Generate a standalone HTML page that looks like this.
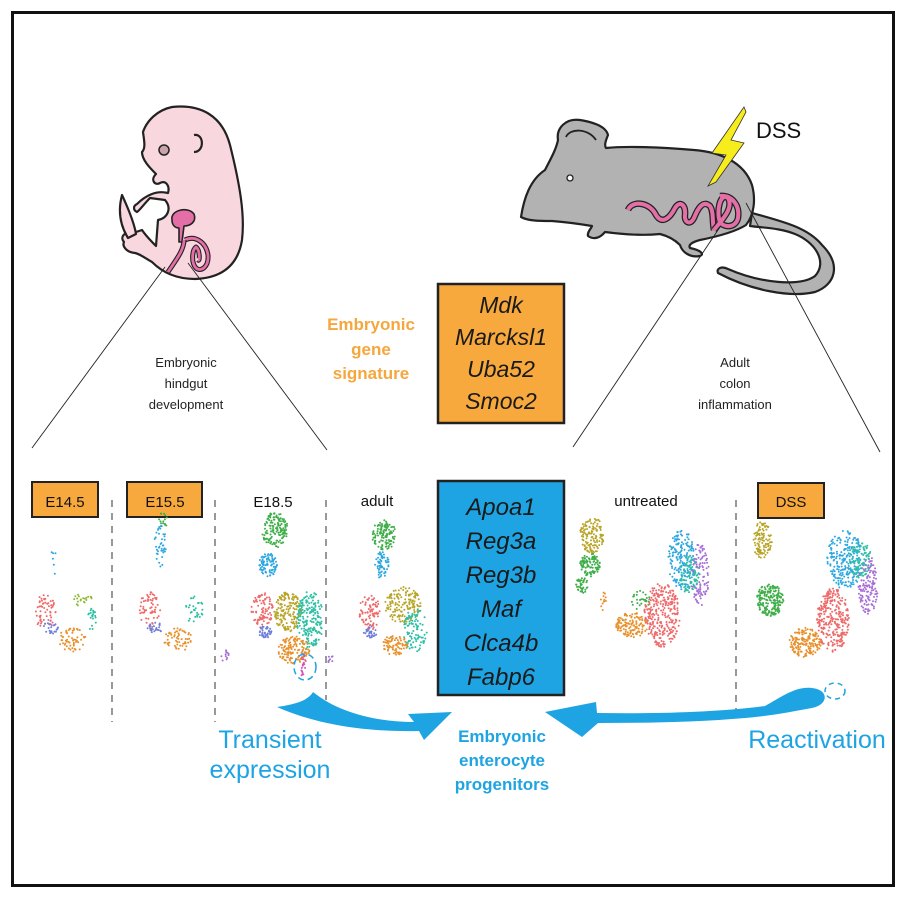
<!DOCTYPE html>
<html><head><meta charset="utf-8"><style>
html,body{margin:0;padding:0;background:#fff}
svg{display:block}
text{font-family:"Liberation Sans",sans-serif}
</style></head><body>
<svg id="s" width="906" height="898" viewBox="0 0 906 898" xmlns="http://www.w3.org/2000/svg">
<rect x="0" y="0" width="906" height="898" fill="#fff"/>
<rect x="12.5" y="12.5" width="881" height="873" fill="none" stroke="#111" stroke-width="3"/>

<!-- embryo -->
<g stroke="#222" stroke-width="2.2" stroke-linejoin="round">
<path d="M172,107 C200,104 222,115 230,145 C240,185 245,215 242,240 C238,265 222,278 195,279 C175,279 162,272 152,262 C145,258 140,254 135,253 C126,252 122,246 124,242 C120,238 124,232 128,234 C126,228 132,226 134,230 L136,232 L142,230 C146,236 150,240 156,246 L158,220 C168,218 172,208 165,200 L150,198 C144,204 140,210 137,212 C133,210 133,206 137,204 C145,196 156,190 168,193 C170,186 166,180 160,183 C155,186 150,180 156,174 C150,168 142,160 142,152 C146,148 144,140 143,132 C147,120 158,110 172,107 Z" fill="#f9d7de"/>
<path d="M128,238 C120,225 118,210 122,195 C128,208 134,222 136,234 Z" fill="#f9d7de"/>
<path d="M194,135 C204,133 205,152 194,152" fill="none"/>
<path d="M172,220 C170,210 188,206 194,214 C197,222 190,226 184,226 L182,242 L179,242 L179,228 C175,228 172,225 172,220 Z" fill="#e46fa6" stroke-width="1.6"/>
<path d="M185,240 C195,235 206,242 208,255 C209,268 200,272 196,268 C191,263 192,250 196,247 C200,250 200,262 198,260" fill="none" stroke="#222" stroke-width="5"/>
<path d="M185,240 C195,235 206,242 208,255 C209,268 200,272 196,268 C191,263 192,250 196,247 C200,250 200,262 198,260" fill="none" stroke="#e46fa6" stroke-width="2.8"/>
<path d="M184,240 C184,250 176,260 168,272" fill="none" stroke="#222" stroke-width="5"/>
<path d="M184,240 C184,250 176,260 168,272" fill="none" stroke="#e46fa6" stroke-width="2.8"/>
</g>
<circle cx="164" cy="150" r="5" fill="#c9a5ab" stroke="#222" stroke-width="1.5"/>

<!-- mouse -->
<g stroke="#222" stroke-width="2.2" stroke-linejoin="round">
<path d="M752,213 C785,222 808,228 822,245 C842,265 835,285 815,292 C790,298 750,290 718,273 C716,268 722,266 728,269 C760,283 800,287 815,276 C828,262 815,242 795,234 C780,228 765,228 750,226 Z" fill="#b2b2b3"/>
<path d="M521,217 C524,198 530,180 545,170 C550,160 556,150 558,140 C556,128 566,118 580,120 C592,122 606,126 608,135 C606,140 604,145 606,148 C625,146 660,147 694,150 C720,152 744,162 752,185 C756,200 754,215 746,225 C735,232 715,237 700,240 C692,242 688,245 690,248 C700,250 705,254 700,256 C690,258 682,252 680,245 C675,240 668,236 660,234 C640,236 620,234 605,232 C600,238 594,240 588,236 C587,232 591,229 592,226 C580,224 565,222 552,221 C540,221 528,221 521,217 Z" fill="#b2b2b3"/>
<path d="M566,137 C570,128 588,128 596,140" fill="none" stroke-width="1.8"/>
<path d="M628,210 C632,200 650,202 656,215 C662,225 670,218 675,208 C680,200 686,205 685,215 C684,222 690,226 694,218 C698,208 703,200 710,206 C714,212 712,222 714,230" fill="none" stroke-width="6.5"/>
<path d="M628,210 C632,200 650,202 656,215 C662,225 670,218 675,208 C680,200 686,205 685,215 C684,222 690,226 694,218 C698,208 703,200 710,206 C714,212 712,222 714,230" fill="none" stroke="#e46fa6" stroke-width="4"/>
<path d="M714,230 C722,220 734,208 728,198 C720,192 716,212 720,222 C724,228 736,228 738,218 C740,205 732,195 720,196" fill="none" stroke-width="6.5"/>
<path d="M714,230 C722,220 734,208 728,198 C720,192 716,212 720,222 C724,228 736,228 738,218 C740,205 732,195 720,196" fill="none" stroke="#e46fa6" stroke-width="4"/>
</g>
<circle cx="570" cy="178" r="3" fill="#fff" stroke="#222" stroke-width="1.3"/>
<polygon points="744,107 712,153 726,155 708,186 716,182 744,143 731,140 746,112" fill="#f7ec1c" stroke="#333" stroke-width="0.8"/>
<text x="756" y="138" font-size="22" fill="#111">DSS</text>

<!-- zoom lines -->
<g stroke="#222" stroke-width="0.9">
<line x1="165" y1="267" x2="32" y2="448"/>
<line x1="188" y1="263" x2="327" y2="450"/>
<line x1="720" y1="227" x2="573" y2="447"/>
<line x1="746" y1="203" x2="880" y2="452"/>
</g>

<text text-anchor="middle" font-size="13" fill="#222"><tspan x="186" y="367">Embryonic</tspan><tspan x="186" y="388">hindgut</tspan><tspan x="186" y="409">development</tspan></text>
<text text-anchor="middle" font-size="13" fill="#222"><tspan x="735" y="367">Adult</tspan><tspan x="735" y="388">colon</tspan><tspan x="735" y="409">inflammation</tspan></text>
<text text-anchor="middle" font-size="17" font-weight="bold" fill="#f5a73d"><tspan x="371" y="330">Embryonic</tspan><tspan x="371" y="355">gene</tspan><tspan x="371" y="379">signature</tspan></text>

<rect x="438" y="284" width="126" height="139" fill="#f7a93d" stroke="#222" stroke-width="2.5"/>
<text text-anchor="middle" font-size="23" font-style="italic" fill="#1a1a1a"><tspan x="501" y="313">Mdk</tspan><tspan x="501" y="345">Marcksl1</tspan><tspan x="501" y="377">Uba52</tspan><tspan x="501" y="409">Smoc2</tspan></text>

<rect x="438" y="481" width="126" height="214" fill="#1ea4e3" stroke="#222" stroke-width="2.5"/>
<text text-anchor="middle" font-size="24" font-style="italic" fill="#1a1a1a"><tspan x="501" y="515">Apoa1</tspan><tspan x="501" y="549">Reg3a</tspan><tspan x="501" y="583">Reg3b</tspan><tspan x="501" y="617">Maf</tspan><tspan x="501" y="651">Clca4b</tspan><tspan x="501" y="685">Fabp6</tspan></text>

<!-- labels -->
<rect x="32" y="482" width="66" height="35" fill="#f7a93d" stroke="#222" stroke-width="2"/>
<text x="65" y="507" text-anchor="middle" font-size="15" fill="#111">E14.5</text>
<rect x="127" y="482" width="75" height="35" fill="#f7a93d" stroke="#222" stroke-width="2"/>
<text x="165" y="507" text-anchor="middle" font-size="15" fill="#111">E15.5</text>
<text x="273" y="507" text-anchor="middle" font-size="15" fill="#111">E18.5</text>
<text x="377" y="506" text-anchor="middle" font-size="15" fill="#111">adult</text>
<text x="646" y="506" text-anchor="middle" font-size="15" fill="#111">untreated</text>
<rect x="758" y="483" width="66" height="35" fill="#f7a93d" stroke="#222" stroke-width="2"/>
<text x="791" y="507" text-anchor="middle" font-size="15" fill="#111">DSS</text>

<g stroke="#555" stroke-width="1.2" stroke-dasharray="7,6">
<line x1="112" y1="500" x2="112" y2="722"/>
<line x1="215" y1="500" x2="215" y2="722"/>
<line x1="326" y1="500" x2="326" y2="700"/>
<line x1="736" y1="500" x2="736" y2="720"/>
</g>

<g id="dots"></g>

<ellipse cx="305" cy="667" rx="11" ry="13" fill="none" stroke="#1ea4e3" stroke-width="1.5" stroke-dasharray="6,4"/>
<ellipse cx="835" cy="691" rx="10" ry="8" fill="none" stroke="#1ea4e3" stroke-width="1.5" stroke-dasharray="5,4"/>

<!-- arrows -->
<path d="M277,707 C298,704 308,700 313,692 C340,714 380,722 414,722 L408,714 L452,712 L424,740 L419,731 C370,732 320,726 277,707 Z" fill="#1ea4e3"/>
<path d="M545,712 L596,702 L597,713 C660,714 720,712 765,706 C780,698 795,686 812,688 C830,690 828,705 812,708 C790,712 770,716 745,718 C700,722 650,723 598,723 L582,737 Z" fill="#1ea4e3"/>

<text text-anchor="middle" font-size="25" fill="#1ea4e3"><tspan x="270" y="748">Transient</tspan><tspan x="270" y="778">expression</tspan></text>
<text x="817" y="748" text-anchor="middle" font-size="25" fill="#1ea4e3">Reactivation</text>
<text text-anchor="middle" font-size="17" font-weight="bold" fill="#1ea4e3"><tspan x="502" y="742">Embryonic</tspan><tspan x="502" y="766">enterocyte</tspan><tspan x="502" y="790">progenitors</tspan></text>
</svg>
<script>
(function(){
var seed=7;function r(){seed=(seed*16807)%2147483647;return seed/2147483647;}
var C={red:"#ee6a6a",blue:"#6f7fd8",orange:"#e8902a",green:"#3fae49",olive:"#b8a426",teal:"#2cbfa4",cyan:"#2ea7e0",purple:"#a66fd6",lime:"#8fb936",pink:"#d452b8"};
var cl=[
[45,612,11,18,"red",60],[50,628,8,6,"blue",25],[72,640,14,12,"orange",60],[82,600,12,6,"lime",20],[92,620,5,12,"teal",20],[52,560,4,20,"cyan",6],
[150,610,11,18,"red",60],[155,628,8,6,"blue",25],[178,640,14,12,"orange",60],[195,610,10,14,"teal",30],[160,545,6,22,"cyan",40],[163,520,5,8,"green",15],
[275,530,13,18,"green",150],[268,565,9,12,"cyan",90],[262,610,11,18,"red",90],[265,632,7,6,"blue",40],[288,612,14,20,"olive",170],[310,620,13,30,"teal",200],[294,650,16,14,"orange",140],[303,665,3,12,"pink",20],[225,656,4,6,"purple",12],
[384,535,12,15,"green",120],[382,565,7,14,"cyan",60],[370,612,11,18,"red",80],[370,632,7,6,"blue",30],[403,605,18,18,"olive",150],[415,630,12,22,"teal",100],[395,645,13,10,"orange",80],[330,658,3,5,"purple",8],
[592,535,12,18,"olive",130],[590,565,10,12,"green",110],[582,585,6,8,"green",40],[603,600,3,10,"orange",12],[640,600,10,10,"green",30],[632,625,16,13,"orange",130],[662,615,18,32,"red",280],[682,560,14,30,"cyan",180],[700,575,9,32,"purple",110],[690,575,10,20,"teal",80],
[762,540,10,18,"olive",110],[770,600,14,16,"green",200],[805,642,16,15,"orange",170],[833,620,16,32,"red",280],[845,560,18,30,"cyan",230],[868,585,10,30,"purple",140],[860,560,12,18,"teal",90]
];
var g=document.getElementById("dots"),h="";
cl.forEach(function(c){for(var i=0;i<c[5];i++){var a=r()*6.283,d=Math.sqrt(r());var x=c[0]+Math.cos(a)*d*c[2],y=c[1]+Math.sin(a)*d*c[3];h+='<circle cx="'+x.toFixed(1)+'" cy="'+y.toFixed(1)+'" r="1" fill="'+C[c[4]]+'"/>';}});
g.innerHTML=h;
})();
</script>
</body></html>
